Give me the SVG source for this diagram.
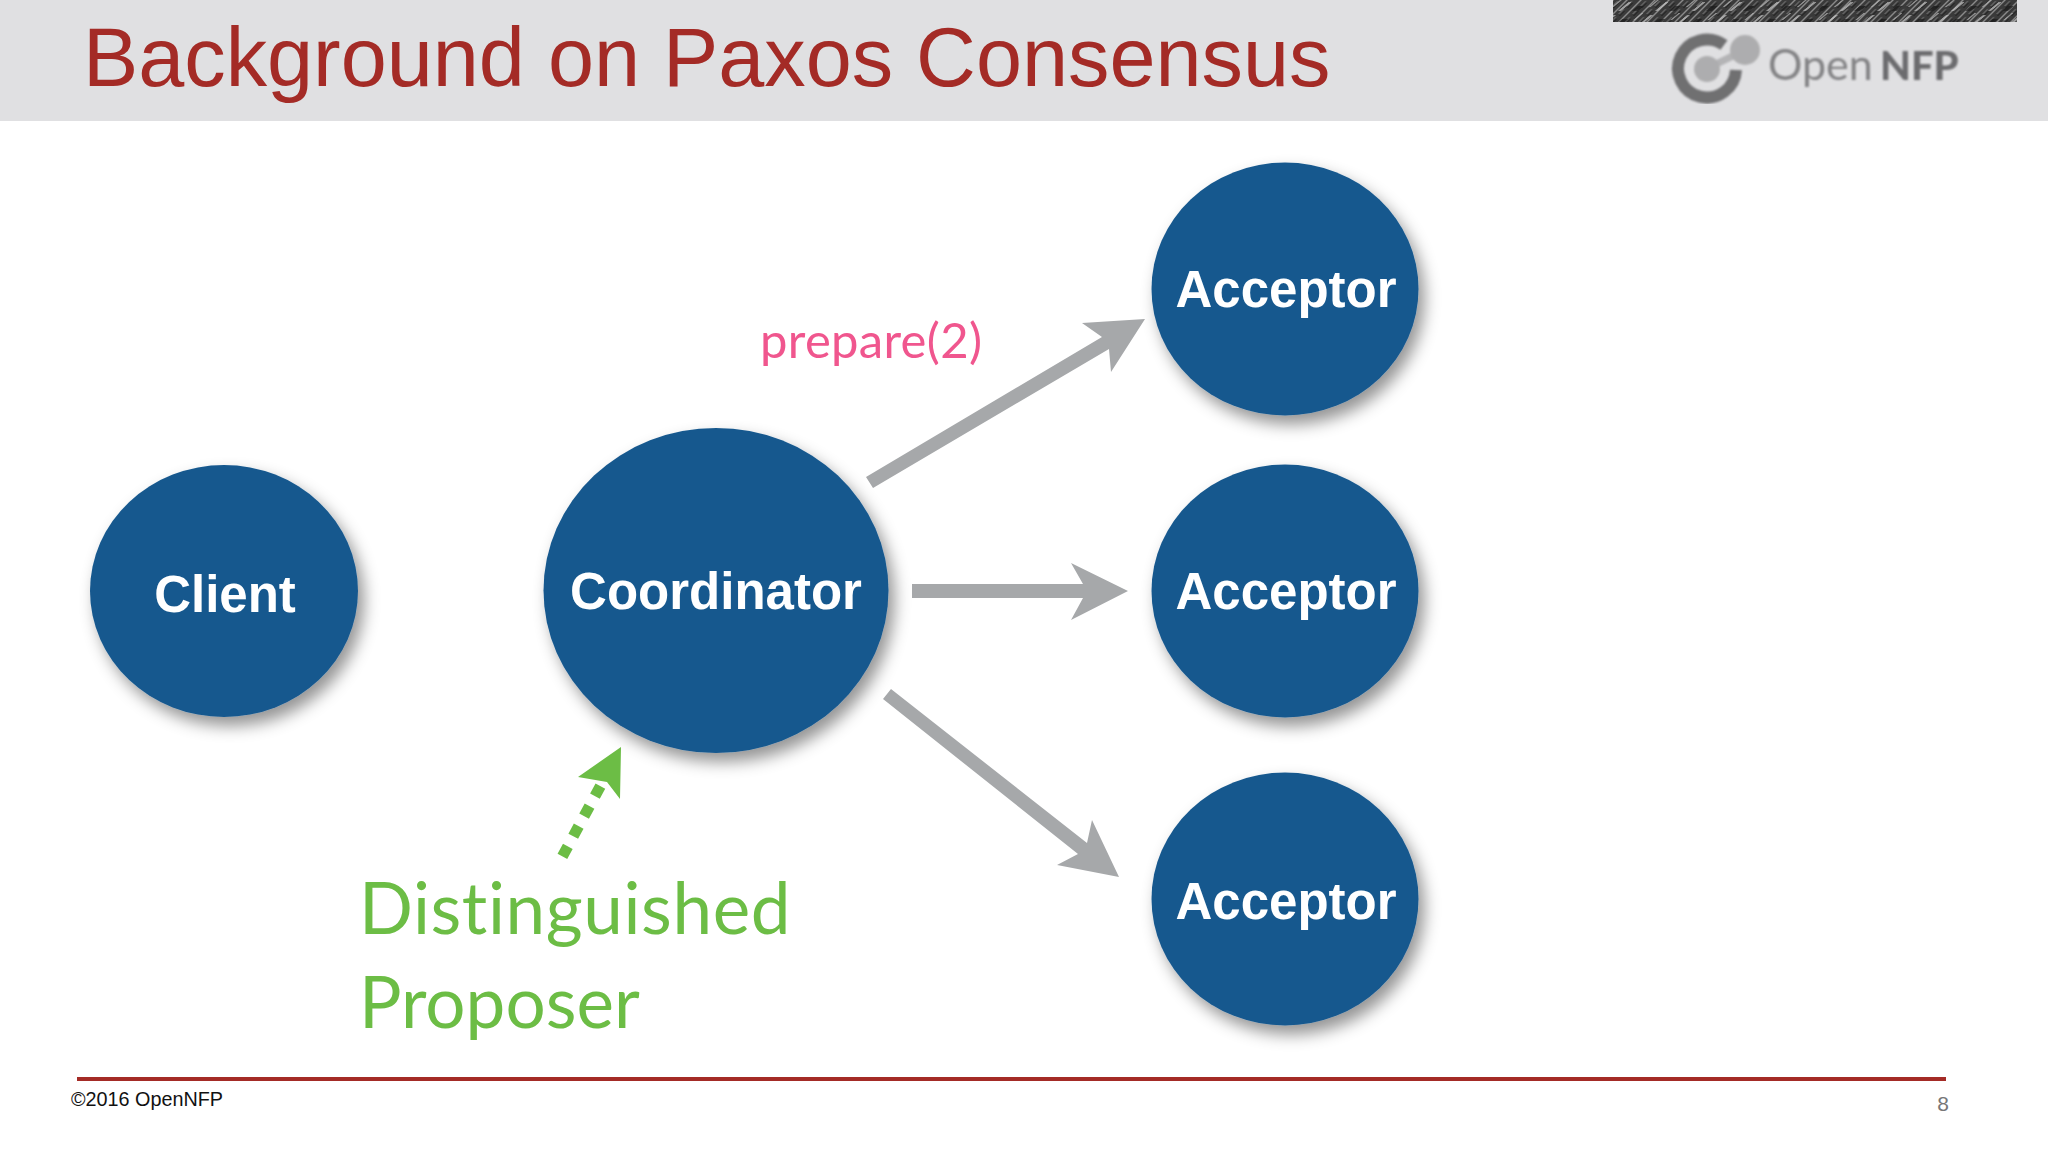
<svg xmlns="http://www.w3.org/2000/svg" width="2048" height="1152" viewBox="0 0 2048 1152">
<style>
.node{fill:#19598e;filter:url(#sh)}
.lbl{font-family:"Liberation Sans",Arial,sans-serif;font-weight:700;fill:#fff;text-anchor:middle}
.arrow{fill:#a6a8aa}
.av{font-family:Lato,"Noto Sans",sans-serif;font-variant-ligatures:none}
.foot{font-family:"Liberation Sans",Arial,sans-serif}
</style>
<defs>
<filter id="sh" x="-20%" y="-20%" width="150%" height="150%">
<feDropShadow dx="6" dy="9" stdDeviation="8" flood-color="#000" flood-opacity="0.42"/>
</filter>
<filter id="bl" x="-5%" y="-10%" width="110%" height="120%"><feGaussianBlur stdDeviation="0.9"/></filter>
<pattern id="tex" width="14" height="8" patternUnits="userSpaceOnUse" patternTransform="skewX(-45)">
<rect width="14" height="8" fill="#3a3a3a"/>
<rect x="2" width="2" height="8" fill="#8a8a8a"/>
<rect x="8" y="1" width="1.5" height="5" fill="#6e6e6e"/>
<rect x="11" y="3" width="1" height="5" fill="#1c1c1c"/>
</pattern>
<pattern id="tex2" width="37" height="13" patternUnits="userSpaceOnUse" patternTransform="skewX(-50)">
<rect x="3" y="2" width="3" height="9" fill="#c8c8c8"/>
<rect x="17" y="6" width="6" height="5" fill="#1a1a1a"/>
<rect x="29" y="0" width="2" height="7" fill="#b0b0b0"/>
</pattern>
</defs>
<rect width="2048" height="1152" fill="#fff"/>
<g id="header">
<rect width="2048" height="121" fill="#e0e0e2"/>
<text x="83" y="86" font-size="82.8" fill="#a42b26" class="foot">Background on Paxos Consensus</text>
<rect x="1613" y="0" width="404" height="22" fill="url(#tex)"/>
<rect x="1613" y="0" width="404" height="22" fill="url(#tex2)" opacity="0.7"/>
<g id="logo" filter="url(#bl)">
<path d="M1724 45 A29 29 0 1 0 1736 70" fill="none" stroke="#6f6f71" stroke-width="12"/>
<path d="M1708 68 L1745 50" stroke="#b4b4b6" stroke-width="7"/>
<circle cx="1707" cy="69" r="13" fill="#adadaf"/>
<circle cx="1745" cy="50" r="15" fill="#adadaf"/>
<text x="1768" y="80" font-size="43" fill="#838385" font-family="Lato,sans-serif">Open</text>
<text x="1880" y="80" font-size="40" fill="#6c6c6e" font-family="Lato,sans-serif" font-weight="900">NFP</text>
</g>
</g>
<g id="connectors">
<polygon class="arrow" points="866,477 1102,337 1082,323 1145,319 1111,372 1109,349 873,488"/>
<polygon class="arrow" points="912,584 1083,584 1071,563 1128,591 1071,620 1083,598 912,598"/>
<polygon class="arrow" points="891,689 1087,843 1092,820 1119,877 1057,865 1078,854 883,699"/>
<line x1="562.4" y1="856.3" x2="600.6" y2="785.7" stroke="#6cbd45" stroke-width="11" stroke-dasharray="11.4 11.4"/>
<polygon fill="#6cbd45" points="621,747 620,799 607,782 578,777"/>
</g>
<g id="client"><ellipse class="node" cx="224" cy="591" rx="134" ry="126"/><text class="lbl" x="225" y="612" font-size="51">Client</text></g>
<g id="coordinator"><ellipse class="node" cx="716" cy="590.5" rx="172.5" ry="162.5"/><text class="lbl" x="716" y="609" font-size="51">Coordinator</text></g>
<g id="acceptor1"><ellipse class="node" cx="1285" cy="289" rx="133.5" ry="126.5"/><text class="lbl" x="1286" y="307" font-size="51">Acceptor</text></g>
<g id="acceptor2"><ellipse class="node" cx="1285" cy="591" rx="133.5" ry="126.5"/><text class="lbl" x="1286" y="609" font-size="51">Acceptor</text></g>
<g id="acceptor3"><ellipse class="node" cx="1285" cy="899" rx="133.5" ry="126.5"/><text class="lbl" x="1286" y="919" font-size="51">Acceptor</text></g>
<text class="av" x="760" y="358" font-size="49" letter-spacing="0.3" fill="#f0568e">prepare(2)</text>
<text class="av" x="359" y="934" font-size="71" letter-spacing="0.6" fill="#6cbd45">Distinguished</text>
<text class="av" x="359" y="1028" font-size="71" fill="#6cbd45">Proposer</text>
<g id="footer">
<rect x="77" y="1077" width="1869" height="4" fill="#a42b26"/>
<text class="foot" x="71" y="1106" font-size="19.8" fill="#111">©2016 OpenNFP</text>
<text class="foot" x="1943" y="1111" font-size="21" fill="#777" text-anchor="middle">8</text>
</g>
</svg>
